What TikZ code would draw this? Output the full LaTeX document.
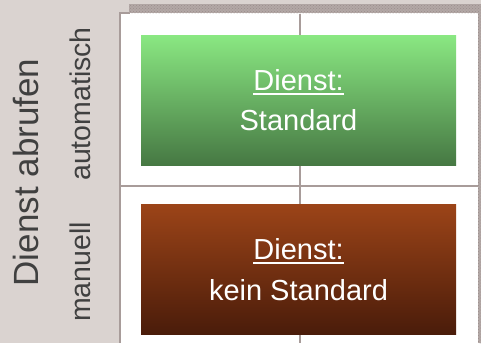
\documentclass[tikz,border=0pt]{standalone}
\usepackage{fontspec}
\setmainfont{Liberation Sans}
\usetikzlibrary{patterns}
\definecolor{bg}{HTML}{DAD3D0}
\definecolor{frame}{HTML}{A89C9A}
\definecolor{band}{HTML}{B3A8A6}
\definecolor{banddot}{HTML}{9A8E8C}
\definecolor{txt}{HTML}{404040}
\definecolor{gtop}{HTML}{8AE882}
\definecolor{gbot}{HTML}{467843}
\definecolor{btop}{HTML}{9C4418}
\definecolor{bbot}{HTML}{4A1C0A}
\newcommand\myul[1]{\setbox0\hbox{#1}\rlap{\rule[-4.5pt]{\wd0}{1.8pt}}\box0}
\tikzset{
  sidebig/.style={rotate=90, anchor=base, text=txt, font=\fontsize{35}{40}\selectfont, inner sep=0pt},
  sidesmall/.style={rotate=90, anchor=base, text=txt, font=\fontsize{28.5}{32}\selectfont, inner sep=0pt},
  divider/.style={draw=frame, line width=2pt},
  boxtext/.style={text=white, font=\fontsize{29}{40}\selectfont, align=center, inner sep=0pt, anchor=base},
}
\begin{document}
\begin{tikzpicture}[x=1pt,y=-1pt]
\useasboundingbox (0,0) rectangle (481,343);
\fill[bg] (0,0) rectangle (481,343);
% white panel
\fill[white] (120,13) rectangle (478,343);
\fill[frame] (119,13) rectangle (121,343);
\fill[frame] (119,12) rectangle (130,14);
% top band and right border
\fill[band] (129,4) rectangle (481,13);
\fill[pattern=crosshatch dots, pattern color=banddot] (129,4) rectangle (481,13);
\fill[band] (478,13) rectangle (481,343);
\fill[pattern=crosshatch dots, pattern color=banddot] (478,13) rectangle (481,343);
% dividers
\coordinate (vtop) at (299.5,14);
\coordinate (vbot) at (299.5,343);
\coordinate (hl) at (121,186);
\coordinate (hr) at (478,186);
\draw[divider] (vtop) -- (vbot);
\draw[divider] (hl) -- (hr);
% boxes
\shade[top color=gtop, bottom color=gbot] (141,35) rectangle (456,165);
\shade[top color=btop, bottom color=bbot] (141,204) rectangle (456,334);
\node[boxtext] (g1) at (298.5,90) {\myul{Dienst:}};
\node[boxtext] (g2) at (298.5,130) {Standard};
\node[boxtext] (b1) at (298.5,259) {\myul{Dienst:}};
\node[boxtext] (b2) at (298.5,300) {kein Standard};
% side labels
\node[sidebig] (dienst) at (38,172.5) {Dienst abrufen};
\node[sidesmall] (auto) at (90,104) {automatisch};
\node[sidesmall] (man) at (90,272) {manuell};
\end{tikzpicture}
\end{document}
